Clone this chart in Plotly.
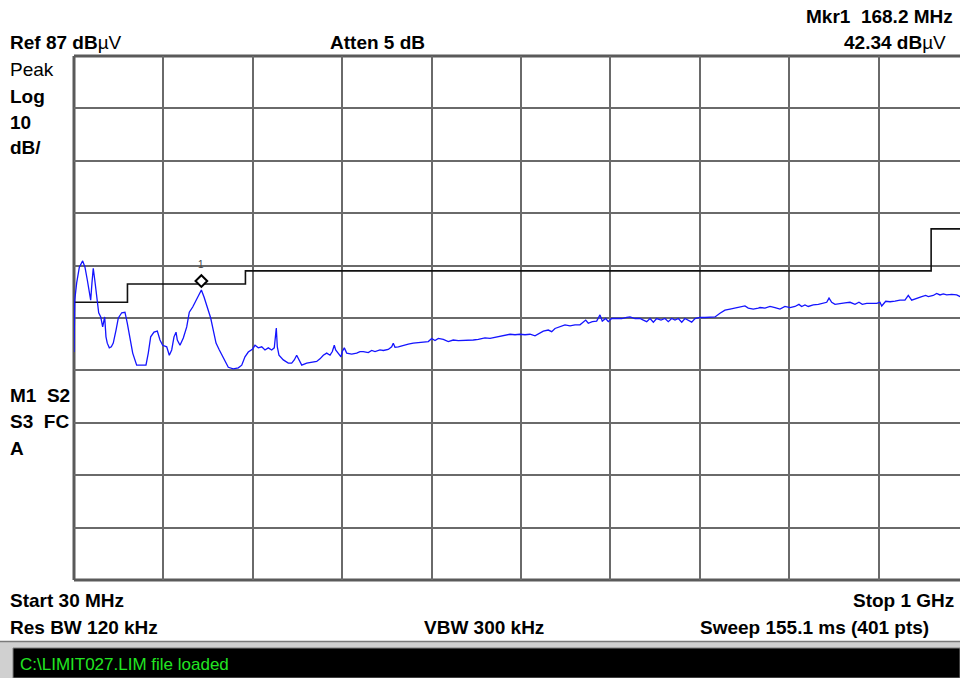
import plotly.graph_objects as go

trace_freq_mhz = [30.0, 30.8, 32.9, 35.8, 39.4, 41.9, 44.4, 46.6, 48.1, 49.5, 50.9, 52.5, 53.9, 55.3, 56.8, 59.0, 61.1, 63.3, 64.7, 66.1,
                  68.3, 70.5, 72.6, 75.6, 78.1, 81.8, 85.3, 87.8, 90.8, 93.7, 98.0, 103.5, 108.1, 110.6, 113.2, 116.8, 120.4, 123.3, 126.2, 130.6,
                  133.4, 136.0, 138.5, 140.7, 142.1, 145.0, 148.6, 152.3, 155.1, 158.8, 162.4, 166.0, 168.2, 171.1, 174.6, 178.3, 181.1, 184.1, 187.7, 192.0,
                  197.4, 202.8, 208.3, 212.0, 215.5, 219.1, 223.9, 226.4, 230.0, 233.7, 237.2, 240.8, 244.5, 247.3, 249.5, 250.6, 252.4, 257.1, 262.5, 266.2,
                  269.0, 271.6, 274.1, 277.1, 282.5, 287.9, 293.3, 296.9, 300.5, 304.2, 307.8, 310.3, 312.4, 313.9, 316.8, 319.7, 321.1, 323.3, 325.9, 331.3,
                  336.7, 340.3, 343.9, 349.3, 353.0, 356.6, 362.0, 365.6, 371.0, 374.7, 376.4, 378.3, 381.9, 387.3, 392.7, 398.1, 403.6, 409.0, 414.4, 418.1,
                  421.7, 425.3, 430.7, 436.1, 441.5, 447.0, 452.4, 457.8, 463.2, 468.7, 475.9, 481.4, 486.8, 494.1, 499.5, 503.1, 508.5, 513.9, 519.3, 524.8,
                  530.2, 534.5, 539.2, 544.6, 548.3, 551.9, 557.3, 562.7, 568.2, 573.6, 579.0, 582.6, 585.2, 588.0, 592.4, 597.1, 600.7, 603.2, 606.9, 609.7,
                  613.4, 618.8, 624.3, 629.7, 633.3, 638.7, 644.1, 647.7, 651.4, 655.0, 658.6, 662.2, 666.9, 671.2, 674.8, 678.5, 682.1, 685.7, 689.4, 692.9,
                  696.5, 700.2, 703.8, 709.2, 714.6, 720.1, 725.5, 730.9, 736.3, 741.8, 747.2, 752.6, 758.0, 761.6, 767.0, 772.5, 774.3, 779.7, 785.2, 790.6,
                  796.0, 801.4, 806.9, 812.3, 816.6, 819.5, 823.1, 826.7, 832.1, 837.6, 843.0, 846.7, 849.2, 852.1, 855.7, 861.1, 866.5, 872.0, 877.4, 881.7,
                  885.3, 890.1, 895.5, 900.9, 904.5, 906.4, 910.7, 915.4, 920.8, 926.2, 931.6, 935.2, 938.9, 944.3, 949.8, 954.1, 956.9, 962.3, 966.0, 969.6,
                  973.2, 976.9, 982.3, 987.7, 991.3, 1000.0]
trace_level_dbuv = [30.5, 40.4, 43.7, 46.7, 47.9, 46.7, 44.3, 42.3, 40.4, 43.7, 46.5, 44.3, 41.8, 39.9, 38.0, 37.2, 35.3, 37.2, 33.4, 32.2,
                    31.3, 31.5, 32.2, 34.7, 37.0, 38.0, 38.1, 36.0, 32.8, 30.3, 28.0, 28.0, 28.0, 30.3, 33.4, 34.3, 34.5, 32.8, 31.8, 31.5,
                    29.9, 30.9, 33.4, 34.3, 32.8, 31.8, 33.2, 35.3, 38.1, 39.1, 40.4, 41.8, 42.34, 41.0, 38.9, 37.0, 34.7, 32.2, 30.9, 29.4,
                    27.6, 27.3, 27.5, 28.0, 29.6, 30.5, 31.1, 31.8, 31.3, 31.5, 30.9, 31.3, 30.9, 31.3, 35.1, 31.5, 29.9, 29.0, 28.4, 28.4,
                    29.0, 29.9, 29.0, 28.0, 28.4, 28.5, 28.7, 29.2, 29.9, 30.3, 29.9, 30.6, 31.8, 30.9, 30.3, 29.6, 30.6, 31.3, 30.3, 30.1,
                    30.3, 30.6, 30.6, 30.4, 30.8, 30.6, 30.9, 30.8, 31.0, 31.5, 32.2, 31.4, 31.5, 31.8, 32.0, 32.2, 32.3, 32.4, 32.5, 33.1,
                    32.7, 33.1, 32.9, 32.5, 32.8, 32.7, 32.7, 32.7, 32.8, 32.9, 33.2, 33.1, 33.3, 33.6, 33.8, 33.9, 33.8, 33.9, 33.8, 33.9,
                    33.6, 34.1, 34.5, 34.7, 34.4, 35.0, 35.3, 35.7, 35.5, 35.7, 35.7, 36.3, 36.6, 36.0, 36.3, 36.4, 37.6, 36.4, 36.9, 36.3,
                    36.9, 36.9, 36.9, 37.1, 37.2, 36.9, 36.9, 36.6, 36.3, 36.9, 36.2, 36.9, 36.6, 36.9, 36.3, 36.9, 36.6, 36.9, 36.2, 36.9,
                    36.6, 36.2, 36.9, 37.1, 37.1, 37.2, 37.2, 37.9, 38.5, 38.7, 38.9, 39.0, 39.3, 38.9, 38.7, 38.9, 39.0, 38.9, 39.2, 39.0,
                    38.7, 39.2, 39.0, 39.2, 39.6, 39.2, 39.5, 39.2, 39.5, 39.6, 39.8, 40.0, 40.8, 40.0, 39.6, 39.8, 39.9, 40.0, 39.6, 40.0,
                    39.6, 39.8, 39.8, 39.8, 40.0, 39.3, 40.2, 40.1, 40.2, 40.4, 40.4, 41.3, 40.4, 40.8, 41.1, 41.3, 41.1, 41.3, 41.7, 41.4,
                    41.6, 41.4, 41.5, 41.4, 41.1, 41.3]

limit_freq_mhz = [30, 88, 216, 960, 1000]
limit_level_dbuv = [40, 43.5, 46, 54, 54]

marker_freq_mhz = [168.2]
marker_level_dbuv = [42.34]
marker_label = ["1"]

ref_level_dbuv = 87
db_per_div = 10
start_mhz, stop_mhz = 30, 1000
n_div = 10

# ---------------- layout geometry ----------------
W, H = 960, 678
L, R, T, B = 74, 0, 56, 98
PW, PH = W - L - R, H - T - B
div_px = 89.4  # one horizontal division in pixels (screen is cropped on the right)
mhz_per_div = (stop_mhz - start_mhz) / n_div
x_max = start_mhz + (PW / div_px) * mhz_per_div
y_min = ref_level_dbuv - n_div * db_per_div


def xp(x):
    return (x - L) / PW


def yp(y):
    return (H - B - y) / PH


fig = go.Figure()

fig.add_trace(go.Scatter(x=limit_freq_mhz, y=limit_level_dbuv, mode="lines",
                         line=dict(color="#111111", width=1.6, shape="hv"),
                         hoverinfo="skip", showlegend=False))
fig.add_trace(go.Scatter(x=trace_freq_mhz, y=trace_level_dbuv, mode="lines",
                         line=dict(color="#1414ff", width=1.3),
                         showlegend=False))

# marker diamond drawn just above the marker point
shift_db = 9 / PH * (n_div * db_per_div)
fig.add_trace(go.Scatter(x=marker_freq_mhz, y=marker_level_dbuv, mode="markers",
                         yaxis="y2",
                         marker=dict(symbol="diamond", size=9, color="white",
                                     line=dict(color="black", width=2)),
                         showlegend=False))

fig.update_layout(
    width=W, height=H,
    margin=dict(l=L, r=R, t=T, b=B, pad=0),
    paper_bgcolor="white", plot_bgcolor="white",
    xaxis=dict(range=[start_mhz, x_max], showticklabels=False, ticks="",
               tickvals=[start_mhz + k * mhz_per_div for k in range(1, n_div)],
               showgrid=True, gridcolor="#6a6a6a", gridwidth=1.6,
               zeroline=False, showline=False, fixedrange=True),
    yaxis=dict(range=[y_min, ref_level_dbuv], showticklabels=False, ticks="",
               tickvals=[ref_level_dbuv - k * db_per_div for k in range(1, n_div)],
               showgrid=True, gridcolor="#6a6a6a", gridwidth=1.6,
               zeroline=False, showline=False, fixedrange=True),
    yaxis2=dict(range=[y_min - shift_db, ref_level_dbuv - shift_db], overlaying="y",
                visible=False, fixedrange=True),
    showlegend=False,
)

# frame (left, top, bottom) — right edge is cut off in the screen capture
frame_col = "#5a5a5a"
shapes = [
    dict(type="line", xref="paper", yref="paper", x0=0, x1=0, y0=0, y1=1,
         line=dict(color=frame_col, width=3), layer="between"),
    dict(type="line", xref="paper", yref="paper", x0=0, x1=1, y0=1, y1=1,
         line=dict(color=frame_col, width=3), layer="between"),
    dict(type="line", xref="paper", yref="paper", x0=0, x1=1, y0=0, y1=0,
         line=dict(color=frame_col, width=3), layer="between"),
    # status bar
    dict(type="rect", xref="paper", yref="paper", x0=xp(0), x1=xp(W), y0=yp(H), y1=yp(641),
         fillcolor="#d0d0d0", line=dict(width=0), layer="above"),
    dict(type="line", xref="paper", yref="paper", x0=xp(0), x1=xp(W), y0=yp(641.5), y1=yp(641.5),
         line=dict(color="#7a7a7a", width=1.5), layer="above"),
    dict(type="rect", xref="paper", yref="paper", x0=xp(13), x1=xp(W), y0=yp(H), y1=yp(648),
         fillcolor="black", line=dict(color="#808080", width=1), layer="above"),
]
fig.update_layout(shapes=shapes)

FONT = "Liberation Sans, Arial, sans-serif"
FS = 19


def txt(text, x, y, anchor="left", size=FS, color="black"):
    fig.add_annotation(text=text, xref="paper", yref="paper", x=xp(x), y=yp(y),
                       xanchor=anchor, yanchor="middle", showarrow=False,
                       font=dict(family=FONT, size=size, color=color))


nb = "\u00a0"
txt(f"<b>Mkr1{nb}{nb}{marker_freq_mhz[0]} MHz</b>", 955, 16, "right")
txt(f"<b>{marker_level_dbuv[0]:.2f} dB</b>µV", 948, 43, "right")
txt(f"<b>Ref {ref_level_dbuv} dB</b>µV", 8, 43)
txt("<b>Atten 5 dB</b>", 328, 43)
txt("Peak", 8, 69)
txt("<b>Log</b>", 8, 96)
txt(f"<b>{db_per_div}</b>", 8, 122)
txt("<b>dB/</b>", 8, 148)
txt(f"<b>M1{nb}{nb}S2</b>", 8, 395)
txt(f"<b>S3{nb}{nb}FC</b>", 8, 421)
txt("<b>A</b>", 8, 448)
txt(f"<b>Start {start_mhz} MHz</b>", 8, 600)
txt("<b>Stop 1 GHz</b>", 956, 600, "right")
txt("<b>Res BW 120 kHz</b>", 8, 627)
txt("<b>VBW 300 kHz</b>", 422, 627)
txt("<b>Sweep 155.1 ms (401 pts)</b>", 698, 627)
txt("C:\\LIMIT027.LIM file loaded", 18, 664, size=17, color="#22e622")

# marker number label above the diamond
fig.add_annotation(text=marker_label[0], x=marker_freq_mhz[0], y=marker_level_dbuv[0],
                   xref="x", yref="y", showarrow=False, yshift=26,
                   font=dict(family=FONT, size=10, color="#444444"))

fig.write_html("out.html", config={"displayModeBar": False},
               post_script="document.body.style.margin='0';document.body.style.overflow='hidden';")
